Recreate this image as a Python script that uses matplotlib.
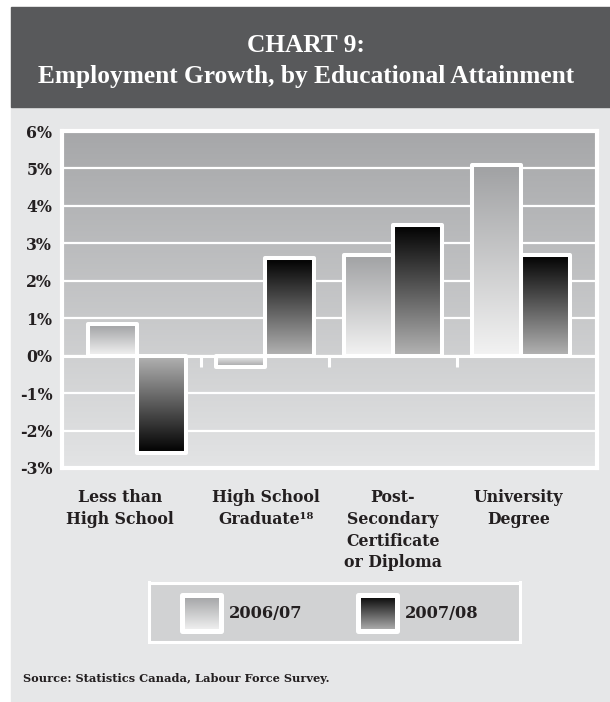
import numpy as np
import matplotlib
matplotlib.use('Agg')
import matplotlib.pyplot as plt
from matplotlib.colors import LinearSegmentedColormap
from matplotlib.patches import Rectangle
from matplotlib.transforms import blended_transform_factory

# employment growth by educational attainment (% change)
categories = ['Less than\nHigh School', 'High School\nGraduate¹⁸',
              'Post-\nSecondary\nCertificate\nor Diploma', 'University\nDegree']
years = ['2006/07', '2007/08']
growth_0607 = [0.85, -0.3, 2.7, 5.1]
growth_0708 = [-2.6, 2.6, 3.5, 2.7]
yticks = [-3, -2, -1, 0, 1, 2, 3, 4, 5, 6]
ytick_labels = ['-3%', '-2%', '-1%', '0%', '1%', '2%', '3%', '4%', '5%', '6%']

W, H = 610, 702
SERIF = 'DejaVu Serif'


def px(x0, y0, x1, y1):
    # pixel box (origin top-left) -> figure fraction rect
    return [x0 / W, 1 - y1 / H, (x1 - x0) / W, (y1 - y0) / H]


def ramp(light, dark):
    return LinearSegmentedColormap.from_list('', [light, dark])


cmaps = [ramp('#f3f3f3', '#a0a1a3'), ramp('#b4b4b4', '#000000')]
grad = np.linspace(0, 1, 256).reshape(-1, 1)

fig = plt.figure(figsize=(W / 100, H / 100), dpi=100)
fig.patch.set_facecolor('white')

# light panel + dark title band
fig.patches.append(Rectangle((11 / W, 0), 1, 1 - 107 / H, transform=fig.transFigure,
                             color='#e6e7e8', zorder=-10))
fig.patches.append(Rectangle((11 / W, 1 - 107 / H), 1, 100 / H, transform=fig.transFigure,
                             color='#58595b', zorder=-10))
fig.text(0.502, 1 - 46 / H, 'CHART 9:', ha='center', va='center', color='white',
         fontsize=18.3, family='Liberation Serif', weight='bold')
fig.text(0.502, 1 - 77 / H, 'Employment Growth, by Educational Attainment', ha='center',
         va='center', color='white', fontsize=18.3, family='Liberation Serif', weight='bold')

ax = fig.add_axes(px(62, 131, 597, 468))
xlim = (-0.586, 3.594)
ylim = (-3, 6)

# plot area background gradient
ax.imshow(grad, cmap=ramp('#a6a7a9', '#e3e4e5'), extent=[*xlim, *ylim], aspect='auto',
          origin='upper', zorder=0)

x = np.arange(len(categories))
bw = 0.383
for i, vals in enumerate([growth_0607, growth_0708]):
    bars = ax.bar(x + (i - 0.5) * bw, vals, bw, fill=False, edgecolor='white', lw=2.9,
                  joinstyle='round', zorder=3, label=years[i])
    for p, v in zip(bars.patches, vals):
        x0 = p.get_x()
        g = grad if v >= 0 else grad[::-1]
        ax.imshow(g, cmap=cmaps[i], extent=[x0, x0 + p.get_width(), min(0, v), max(0, v)],
                  aspect='auto', origin='lower', zorder=2)

ax.axhline(0, color='white', lw=2.2, zorder=1)
ax.vlines(x[:-1] + 0.5, -0.3, 0, color='white', lw=2.2, zorder=1)

ax.set_xlim(*xlim)
ax.set_ylim(*ylim)
ax.set_yticks(yticks)
ax.set_yticklabels(ytick_labels, family=SERIF, weight='bold', fontsize=11.3, color='#231f20')
ax.set_xticks([])
ax.tick_params(axis='y', length=0, pad=7)
ax.set_axisbelow(True)
ax.yaxis.grid(True, color='white', lw=1.6)
for s in ax.spines.values():
    s.set_color('white')
    s.set_linewidth(3)

label_shift = [-0.13, 0.01, 0.0, -0.02]
trans = blended_transform_factory(ax.transData, ax.transAxes)
for i, lab in enumerate(categories):
    ax.text(x[i] + label_shift[i], -0.063, lab, transform=trans, ha='center', va='top',
            fontsize=11.3, family=SERIF, weight='bold', color='#231f20', linespacing=1.36)

# legend box
lax = fig.add_axes(px(148.5, 582.5, 519.5, 641.5))
lax.set_facecolor('#d1d2d3')
for s in lax.spines.values():
    s.set_color('white')
    s.set_linewidth(2.2)
lax.set_xticks([])
lax.set_yticks([])
swatch_x = [181.5, 357.5]
text_x = [229, 405]
for i, yr in enumerate(years):
    sx = swatch_x[i]
    lax.imshow(grad[::-1], cmap=cmaps[i], extent=[sx, sx + 39, 631, 595], aspect='auto',
               origin='upper', zorder=2)
    lax.add_patch(Rectangle((sx, 595), 39, 36, fill=False, edgecolor='white', lw=3.6,
                            joinstyle='round', zorder=3))
    lax.text(text_x[i], 614, yr, ha='left', va='center', fontsize=11.7, family=SERIF,
             weight='bold', color='#231f20')
lax.set_xlim(148.5, 519.5)
lax.set_ylim(641.5, 582.5)

fig.text(23 / W, 1 - 679 / H, 'Source: Statistics Canada, Labour Force Survey.', va='center',
         fontsize=8.2, family=SERIF, weight='bold', color='#231f20')

fig.savefig('out.png', dpi=100, facecolor=fig.get_facecolor())
